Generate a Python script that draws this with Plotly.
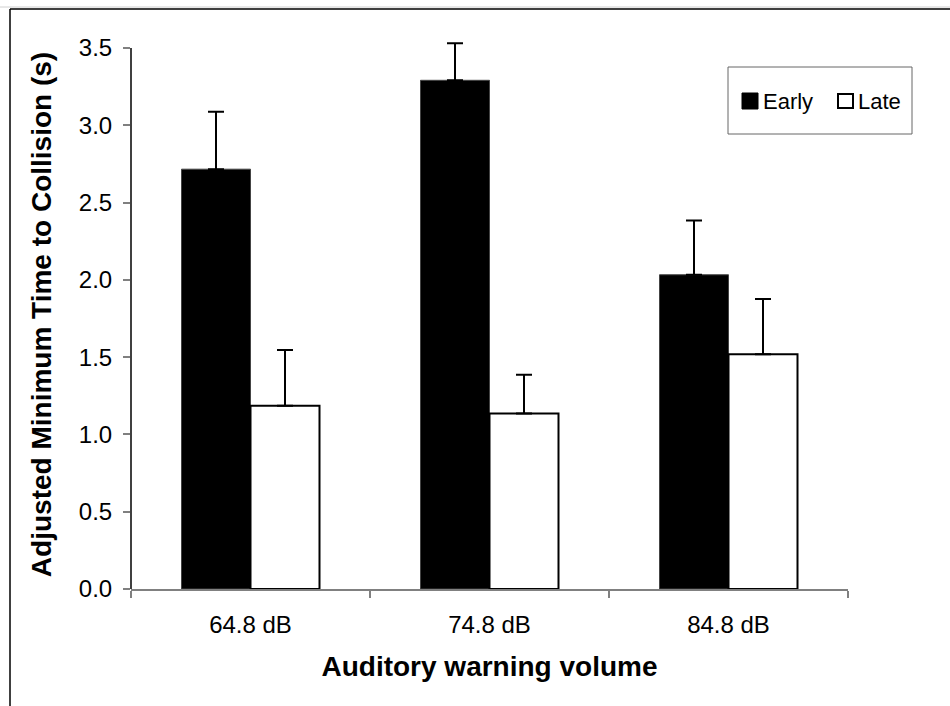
import plotly.graph_objects as go

# Data
volumes = ["64.8 dB", "74.8 dB", "84.8 dB"]
early_ttc = [2.716, 3.291, 2.033]
early_err = [0.372, 0.239, 0.351]
late_ttc = [1.186, 1.135, 1.518]
late_err = [0.360, 0.251, 0.358]
y_ticks = [0.0, 0.5, 1.0, 1.5, 2.0, 2.5, 3.0, 3.5]
y_axis_max = 3.5

W, H = 950, 706
# a little headroom above 3.5 so the tallest error cap is not clipped
ML, MR, MT, MB = 131, 102, 40, 117
PW, PH = W - ML - MR, H - MT - MB
Y_TOP = y_axis_max * PH / (PH - 8)


def px(x):
    return (x - ML) / PW


def py(y):
    return 1 - (y - MT) / PH


FONT = "Liberation Sans, Arial, sans-serif"

fig = go.Figure()
fig.add_trace(go.Bar(
    name="Early", x=volumes, y=early_ttc, cliponaxis=False,
    marker=dict(color="black", line=dict(color="#444444", width=1)),
    error_y=dict(type="data", array=early_err, arrayminus=[0] * 3,
                 symmetric=False, color="black", thickness=2, width=8),
))
fig.add_trace(go.Bar(
    name="Late", x=volumes, y=late_ttc, cliponaxis=False,
    marker=dict(color="white", line=dict(color="black", width=2)),
    error_y=dict(type="data", array=late_err, arrayminus=[0] * 3,
                 symmetric=False, color="black", thickness=2, width=8),
))

shapes = [
    # outer frame
    dict(type="line", xref="paper", yref="paper", x0=px(0), x1=px(W), y0=py(7), y1=py(7),
         line=dict(color="#d0d0d0", width=1)),
    dict(type="line", xref="paper", yref="paper", x0=px(10), x1=px(W), y0=py(9), y1=py(9),
         line=dict(color="black", width=1.5)),
    dict(type="line", xref="paper", yref="paper", x0=px(10), x1=px(10), y0=py(9), y1=py(H),
         line=dict(color="black", width=1.5)),
    # value axis line, stopping at the last tick
    dict(type="line", xref="paper", yref="y", x0=0, x1=0, y0=0, y1=y_axis_max,
         line=dict(color="black", width=1.5)),
    # legend box
    dict(type="rect", xref="paper", yref="paper", x0=px(728), x1=px(912), y0=py(67), y1=py(134),
         line=dict(color="#666666", width=1), fillcolor="white"),
    dict(type="rect", xref="paper", yref="paper", x0=px(742), x1=px(758), y0=py(93), y1=py(109),
         line=dict(color="black", width=1), fillcolor="black"),
    dict(type="rect", xref="paper", yref="paper", x0=px(838), x1=px(853), y0=py(94), y1=py(108),
         line=dict(color="black", width=2), fillcolor="white"),
]

annotations = [
    dict(text="Early", xref="paper", yref="paper", x=px(761), y=py(101), xanchor="left",
         yanchor="middle", showarrow=False, font=dict(family=FONT, size=22, color="black")),
    dict(text="Late", xref="paper", yref="paper", x=px(856), y=py(101), xanchor="left",
         yanchor="middle", showarrow=False, font=dict(family=FONT, size=22, color="black")),
]

fig.update_layout(
    width=W, height=H,
    margin=dict(l=ML, r=MR, t=MT, b=MB, pad=0),
    paper_bgcolor="white", plot_bgcolor="white",
    barmode="group", bargap=0.4226, bargroupgap=0,
    showlegend=False,
    font=dict(family=FONT, color="black"),
    shapes=shapes, annotations=annotations,
    xaxis=dict(
        showline=True, linecolor="#808080", linewidth=1.5,
        ticks="outside", ticklen=7, tickcolor="#808080", tickwidth=1.5,
        tickson="boundaries", showgrid=False, zeroline=False,
        tickfont=dict(size=24, family=FONT, color="black"),
        ticklabelstandoff=13,
        title=dict(text="<b>Auditory warning volume</b>", standoff=20,
                   font=dict(size=28, family=FONT, color="black")),
    ),
    yaxis=dict(
        range=[0, Y_TOP], tickvals=y_ticks, tickformat=".1f",
        showline=False,
        ticks="outside", ticklen=7, tickcolor="#808080", tickwidth=1.5,
        showgrid=False, zeroline=False,
        tickfont=dict(size=24, family=FONT, color="black"),
        ticklabelstandoff=6,
        title=dict(text="<b>Adjusted Minimum Time to Collision (s)</b>", standoff=19,
                   font=dict(size=28, family=FONT, color="black")),
    ),
)

fig.write_html("out.html")
